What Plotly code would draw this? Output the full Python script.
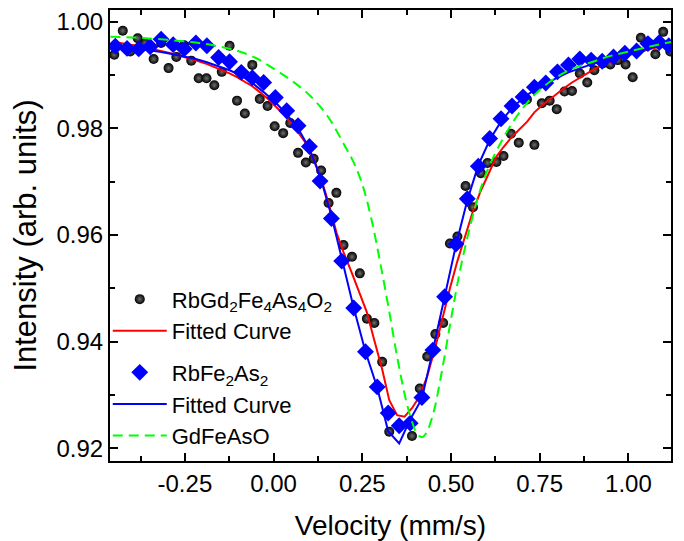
import plotly.graph_objects as go

# RbGd2Fe4As4O2 measured spectrum (velocity mm/s, relative intensity)
rbgd_v = [-0.449, -0.425, -0.404, -0.383, -0.362, -0.338, -0.317, -0.296, -0.274, -0.252,
          -0.232, -0.211, -0.189, -0.167, -0.146, -0.124, -0.103, -0.081, -0.060, -0.039,
          -0.017, 0.003, 0.027, 0.047, 0.069, 0.091, 0.113, 0.134, 0.155, 0.177,
          0.197, 0.221, 0.243, 0.263, 0.284, 0.306, 0.326, 0.390, 0.412, 0.433,
          0.456, 0.478, 0.497, 0.518, 0.541, 0.562, 0.584, 0.603, 0.628, 0.648,
          0.669, 0.691, 0.714, 0.735, 0.756, 0.778, 0.798, 0.820, 0.841, 0.863,
          0.884, 0.904, 0.929, 0.949, 0.970, 0.992, 1.012, 1.035, 1.057, 1.076,
          1.098, 1.118]
rbgd_i = [0.9938, 0.9983, 0.9944, 0.9969, 0.9960, 0.9930, 0.9960, 0.9913, 0.9934, 0.9956,
          0.9927, 0.9894, 0.9894, 0.9881, 0.9906, 0.9955, 0.9852, 0.9828, 0.9919, 0.9855,
          0.9842, 0.9804, 0.9791, 0.9810, 0.9754, 0.9736, 0.9743, 0.9721, 0.9660, 0.9679,
          0.9581, 0.9559, 0.9528, 0.9443, 0.9435, 0.9362, 0.9231, 0.9223, 0.9312, 0.9372,
          0.9414, 0.9435, 0.9584, 0.9597, 0.9692, 0.9652, 0.9716, 0.9735, 0.9737, 0.9748,
          0.9790, 0.9773, 0.9854, 0.9769, 0.9847, 0.9852, 0.9836, 0.9869, 0.9870, 0.9903,
          0.9886, 0.9909, 0.9922, 0.9920, 0.9928, 0.9920, 0.9896, 0.9970, 0.9960, 0.9939,
          0.9981, 0.9944]

# fitted curve for RbGd2Fe4As4O2
rbgd_fit_v = [-0.449, -0.425, -0.404, -0.383, -0.362, -0.338, -0.317, -0.296, -0.274, -0.252,
              -0.232, -0.211, -0.189, -0.167, -0.146, -0.124, -0.103, -0.081, -0.060, -0.039,
              -0.017, 0.003, 0.027, 0.047, 0.069, 0.091, 0.113, 0.134, 0.155, 0.177,
              0.197, 0.221, 0.243, 0.263, 0.284, 0.306, 0.326, 0.348, 0.369, 0.390,
              0.412, 0.433, 0.456, 0.478, 0.497, 0.518, 0.541, 0.562, 0.584, 0.603,
              0.628, 0.648, 0.669, 0.691, 0.714, 0.735, 0.756, 0.778, 0.798, 0.820,
              0.841, 0.863, 0.884, 0.904, 0.929, 0.949, 0.970, 0.992, 1.012, 1.035,
              1.057, 1.076, 1.098, 1.118]
rbgd_fit_i = [0.9962, 0.9960, 0.9957, 0.9955, 0.9952, 0.9949, 0.9945, 0.9942, 0.9938, 0.9934,
              0.9930, 0.9926, 0.9921, 0.9915, 0.9909, 0.9903, 0.9896, 0.9888, 0.9879, 0.9868,
              0.9856, 0.9843, 0.9827, 0.9811, 0.9793, 0.9772, 0.9743, 0.9706, 0.9660, 0.9605,
              0.9568, 0.9528, 0.9491, 0.9455, 0.9402, 0.9348, 0.9290, 0.9262, 0.9259, 0.9275,
              0.9298, 0.9335, 0.9390, 0.9452, 0.9500, 0.9551, 0.9600, 0.9645, 0.9683, 0.9712,
              0.9747, 0.9765, 0.9782, 0.9797, 0.9812, 0.9830, 0.9843, 0.9854, 0.9865, 0.9876,
              0.9886, 0.9895, 0.9903, 0.9911, 0.9919, 0.9925, 0.9931, 0.9936, 0.9940, 0.9944,
              0.9948, 0.9951, 0.9954, 0.9957]

# RbFe2As2 measured spectrum and its fit (same velocity grid)
rbfe_v = [-0.446, -0.413, -0.380, -0.348, -0.317, -0.283, -0.252, -0.219, -0.188, -0.155,
          -0.124, -0.091, -0.060, -0.028, 0.005, 0.037, 0.069, 0.101, 0.131, 0.163,
          0.192, 0.226, 0.259, 0.292, 0.323, 0.354, 0.385, 0.418, 0.449, 0.482,
          0.514, 0.546, 0.577, 0.609, 0.641, 0.672, 0.703, 0.735, 0.767, 0.800,
          0.831, 0.863, 0.895, 0.926, 0.958, 0.990, 1.023, 1.055, 1.087, 1.114]
rbfe_i = [0.9954, 0.9950, 0.9949, 0.9953, 0.9967, 0.9957, 0.9949, 0.9960, 0.9955, 0.9933,
          0.9925, 0.9905, 0.9895, 0.9886, 0.9858, 0.9833, 0.9805, 0.9766, 0.9701, 0.9631,
          0.9551, 0.9463, 0.9381, 0.9315, 0.9266, 0.9242, 0.9247, 0.9295, 0.9384, 0.9484,
          0.9583, 0.9668, 0.9729, 0.9781, 0.9818, 0.9842, 0.9859, 0.9877, 0.9885, 0.9906,
          0.9919, 0.9930, 0.9928, 0.9926, 0.9934, 0.9941, 0.9945, 0.9959, 0.9961, 0.9955]
rbfe_fit = [0.9956, 0.9953, 0.9950, 0.9947, 0.9943, 0.9939, 0.9935, 0.9930, 0.9924, 0.9917,
            0.9909, 0.9899, 0.9885, 0.9868, 0.9849, 0.9826, 0.9800, 0.9762, 0.9710, 0.9636,
            0.9554, 0.9463, 0.9381, 0.9314, 0.9232, 0.9209, 0.9254, 0.9293, 0.9384, 0.9484,
            0.9581, 0.9665, 0.9731, 0.9778, 0.9813, 0.9838, 0.9857, 0.9872, 0.9884, 0.9895,
            0.9905, 0.9913, 0.9920, 0.9926, 0.9933, 0.9939, 0.9944, 0.9950, 0.9955, 0.9958]

# GdFeAsO reference curve
gd_v = [-0.46, -0.38, -0.30, -0.22, -0.15, -0.10, -0.05, 0.00, 0.05, 0.10,
        0.15, 0.20, 0.225, 0.25, 0.275, 0.30, 0.325, 0.35, 0.375, 0.39,
        0.40, 0.41, 0.42, 0.43, 0.45, 0.475, 0.50, 0.525, 0.55, 0.575,
        0.60, 0.65, 0.70, 0.75, 0.80, 0.85, 0.90, 0.95, 1.00, 1.05, 1.12]
gd_i = [0.9972, 0.9970, 0.9966, 0.9961, 0.9953, 0.9945, 0.9932, 0.9912, 0.9890, 0.9863,
        0.9825, 0.9768, 0.9737, 0.9695, 0.9632, 0.9550, 0.9460, 0.9365, 0.9285, 0.9250,
        0.9232, 0.9223, 0.9221, 0.9228, 0.9265, 0.9347, 0.9442, 0.9532, 0.9606, 0.9668,
        0.9717, 0.9785, 0.9836, 0.9872, 0.9897, 0.9914, 0.9925, 0.9936, 0.9944, 0.9952, 0.9962]

x_ticks = [-0.25, 0.0, 0.25, 0.5, 0.75, 1.0]
x_tick_labels = ["-0.25", "0.00", "0.25", "0.50", "0.75", "1.00"]
y_ticks = [0.92, 0.94, 0.96, 0.98, 1.00]
y_tick_labels = ["0.92", "0.94", "0.96", "0.98", "1.00"]

FONT = "Liberation Sans, Arial, sans-serif"

fig = go.Figure()
fig.add_trace(go.Scatter(x=rbgd_v, y=rbgd_i, mode="markers", legendgroup="a",
                         name="RbGd<sub>2</sub>Fe<sub>4</sub>As<sub>4</sub>O<sub>2</sub>",
                         marker=dict(symbol="circle", size=10, color="black",
                                     gradient=dict(type="radial", color="#6e6e6e"),
                                     line=dict(width=0))))
fig.add_trace(go.Scatter(x=rbgd_fit_v, y=rbgd_fit_i, mode="lines", name="Fitted Curve",
                         legendgroup="a", line=dict(color="#ff0000", width=2)))
fig.add_trace(go.Scatter(x=rbfe_v, y=rbfe_i, mode="markers", legendgroup="b",
                         name="RbFe<sub>2</sub>As<sub>2</sub>",
                         marker=dict(symbol="diamond", size=13, color="#0000ff",
                                     line=dict(width=0))))
fig.add_trace(go.Scatter(x=rbfe_v, y=rbfe_fit, mode="lines", name="Fitted Curve",
                         legendgroup="b", line=dict(color="#0000ff", width=2)))
fig.add_trace(go.Scatter(x=gd_v, y=gd_i, mode="lines", name="GdFeAsO", legendgroup="b",
                         line=dict(color="#00ff00", width=2, dash="10px,6px", shape="spline")))

axis_common = dict(showline=True, linewidth=2, linecolor="black", mirror="allticks",
                   ticks="inside", ticklen=8, tickwidth=1.5, tickcolor="black",
                   showgrid=False, zeroline=False, automargin=False,
                   tickfont=dict(family=FONT, size=24, color="black"))

fig.update_xaxes(range=[-0.461, 1.120], tickmode="array", tickvals=x_ticks, ticktext=x_tick_labels,
                 minor=dict(tickmode="linear", tick0=0, dtick=0.125, ticks="inside",
                            ticklen=5, tickwidth=1.5, tickcolor="black"),
                 title=dict(text="Velocity (mm/s)", font=dict(family=FONT, size=28, color="black"),
                            standoff=20),
                 **axis_common)
fig.update_yaxes(range=[0.9176, 1.0022], tickmode="array", tickvals=y_ticks, ticktext=y_tick_labels,
                 minor=dict(tickmode="linear", tick0=0.92, dtick=0.01, ticks="inside",
                            ticklen=5, tickwidth=1.5, tickcolor="black"),
                 title=dict(text="Intensity (arb. units)", font=dict(family=FONT, size=31, color="black"),
                            standoff=15),
                 **axis_common)

# the page body adds an 8px margin, so the figure is sized to fit inside the window
fig.update_layout(
    width=676, height=533,
    margin=dict(l=102, r=13, t=2, b=80),
    plot_bgcolor="white", paper_bgcolor="white",
    font=dict(family=FONT, color="black"),
    legend=dict(x=-0.004, y=0.405, xanchor="left", yanchor="top",
                bgcolor="rgba(0,0,0,0)", borderwidth=0,
                font=dict(family=FONT, size=22, color="black"),
                itemwidth=54, tracegroupgap=10),
    showlegend=True,
)

fig.write_html("out.html")
